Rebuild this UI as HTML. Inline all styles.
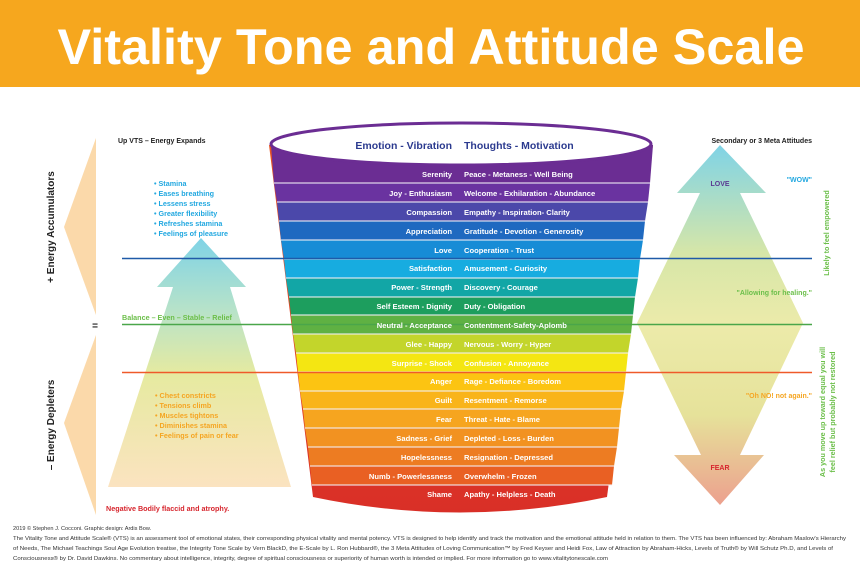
<!DOCTYPE html>
<html><head><meta charset="utf-8"><style>
html,body{margin:0;padding:0;background:#fff;}
svg{display:block;font-family:"Liberation Sans",Arial,sans-serif;}
</style></head><body>
<svg width="860" height="571" viewBox="0 0 860 571" xmlns="http://www.w3.org/2000/svg">
<defs>
<linearGradient id="la" x1="0" y1="0" x2="0" y2="1">
<stop offset="0" stop-color="#7fd3e6"/><stop offset="0.3" stop-color="#b9e3c8"/><stop offset="0.55" stop-color="#e6eaa0"/><stop offset="1" stop-color="#fbe3c0"/></linearGradient>
<linearGradient id="ra" x1="0" y1="0" x2="0" y2="1">
<stop offset="0" stop-color="#7fd3e6"/><stop offset="0.3" stop-color="#d6e6a8"/><stop offset="0.5" stop-color="#ecebaa"/><stop offset="0.75" stop-color="#e6e29a"/><stop offset="1" stop-color="#eca08e"/></linearGradient>
<linearGradient id="cupb" x1="0" y1="0" x2="0" y2="1">
<stop offset="0" stop-color="#e85524"/><stop offset="1" stop-color="#d92f27"/></linearGradient>
</defs>
<rect x="0" y="0" width="860" height="87" fill="#f6a71e"/>
<text x="431" y="64" text-anchor="middle" font-size="50" font-weight="bold" fill="#fff" textLength="747" lengthAdjust="spacingAndGlyphs">Vitality Tone and Attitude Scale</text>

<!-- left peach shapes -->
<polygon points="96,138 64,227 96,315" fill="#fbd9aa"/>
<polygon points="96,335 64,423 96,515" fill="#fbd9aa"/>
<text transform="translate(54,227) rotate(-90)" text-anchor="middle" font-size="10" font-weight="bold" fill="#222">+ Energy Accumulators</text>
<text transform="translate(54,425) rotate(-90)" text-anchor="middle" font-size="10" font-weight="bold" fill="#222">– Energy Depleters</text>
<text x="95" y="329" text-anchor="middle" font-size="10" font-weight="bold" fill="#222">=</text>

<!-- left arrow -->
<polygon points="201,238 246,287 230,287 291,487 108,487 173,287 157,287" fill="url(#la)"/>
<text x="118" y="143" font-size="7" font-weight="bold" fill="#222">Up VTS – Energy Expands</text>
<g font-size="7.2" font-weight="bold" fill="#22a8e0">
<text x="154" y="186">• Stamina</text>
<text x="154" y="196">• Eases breathing</text>
<text x="154" y="206">• Lessens stress</text>
<text x="154" y="216">• Greater flexibility</text>
<text x="154" y="226">• Refreshes stamina</text>
<text x="154" y="236">• Feelings of pleasure</text>
</g>
<g font-size="7.2" font-weight="bold" fill="#f5a623">
<text x="155" y="398">• Chest constricts</text>
<text x="155" y="408">• Tensions climb</text>
<text x="155" y="418">• Muscles tightons</text>
<text x="155" y="428">• Diminishes stamina</text>
<text x="155" y="438">• Feelings of pain or fear</text>
</g>
<text x="122" y="320" font-size="7.2" font-weight="bold" fill="#6cbf4a">Balance – Even – Stable – Relief</text>
<text x="106" y="511" font-size="7.2" font-weight="bold" fill="#d7262e">Negative Bodily flaccid and atrophy.</text>

<!-- right diamond arrow -->
<polygon points="720,145 766,193 740,193 803,323 740,455 764,455 720,505 674,455 701,455 637,323 700,193 677,193" fill="url(#ra)"/>
<text x="812" y="143" text-anchor="end" font-size="7" font-weight="bold" fill="#222">Secondary or 3 Meta Attitudes</text>
<text x="720" y="186" text-anchor="middle" font-size="7" font-weight="bold" fill="#5b3a92">LOVE</text>
<text x="812" y="182" text-anchor="end" font-size="7" font-weight="bold" fill="#22a8e0">"WOW"</text>
<text x="812" y="295" text-anchor="end" font-size="7" font-weight="bold" fill="#6cbf4a">"Allowing for healing."</text>
<text x="812" y="398" text-anchor="end" font-size="7" font-weight="bold" fill="#f5a623">"Oh NO! not again."</text>
<text x="720" y="470" text-anchor="middle" font-size="7" font-weight="bold" fill="#d7262e">FEAR</text>
<text transform="translate(829,233) rotate(-90)" text-anchor="middle" font-size="7.2" font-weight="bold" fill="#6cbf4a">Likely to feel empowered</text>
<text transform="translate(825,412) rotate(-90)" text-anchor="middle" font-size="7.2" font-weight="bold" fill="#6cbf4a">As you move up toward equal you will</text>
<text transform="translate(835,412) rotate(-90)" text-anchor="middle" font-size="7.2" font-weight="bold" fill="#6cbf4a">feel relief but probably not restored</text>

<!-- cup -->
<g id="cup">
<path d="M269,145 L313,497 Q460,528 607,497 L653,145 Z" fill="url(#cupb)"/>
<g>
<polygon points="271,145 653,145 650,183 274,183" fill="#6b2d93"/>
<polygon points="274,183 650,183 648,202 277,202" fill="#6a33a0"/>
<polygon points="277,202 648,202 645,221 279,221" fill="#4b48aa"/>
<polygon points="279,221 645,221 643,240 281,240" fill="#1f69c0"/>
<polygon points="281,240 643,240 640,259 284,259" fill="#178cd6"/>
<polygon points="284,259 640,259 638,278 286,278" fill="#17ace0"/>
<polygon points="286,278 638,278 635,297 289,297" fill="#12a6a6"/>
<polygon points="289,297 635,297 633,315 291,315" fill="#1d9e5e"/>
<polygon points="291,315 633,315 631,334 293,334" fill="#5fb143"/>
<polygon points="293,334 631,334 628,353 296,353" fill="#c3d52b"/>
<polygon points="296,353 628,353 626,372 298,372" fill="#f4e612"/>
<polygon points="298,372 626,372 624,391 300,391" fill="#fcc412"/>
<polygon points="300,391 624,391 621,409 303,409" fill="#f9b41a"/>
<polygon points="303,409 621,409 619,428 305,428" fill="#f6a51f"/>
<polygon points="305,428 619,428 617,447 308,447" fill="#f29221"/>
<polygon points="308,447 617,447 614,466 310,466" fill="#ed7c22"/>
<polygon points="310,466 614,466 612,485 312,485" fill="#e96023"/>
</g>
<g stroke="#f3f0f6" stroke-width="1.2" opacity="0.85">
<line x1="274" y1="183" x2="650" y2="183"/><line x1="277" y1="202" x2="648" y2="202"/>
<line x1="279" y1="221" x2="645" y2="221"/><line x1="281" y1="240" x2="643" y2="240"/>
<line x1="284" y1="259" x2="640" y2="259"/><line x1="286" y1="278" x2="638" y2="278"/>
<line x1="289" y1="297" x2="635" y2="297"/><line x1="291" y1="315" x2="633" y2="315"/>
<line x1="293" y1="334" x2="631" y2="334"/><line x1="296" y1="353" x2="628" y2="353"/>
<line x1="298" y1="372" x2="626" y2="372"/><line x1="300" y1="391" x2="624" y2="391"/>
<line x1="303" y1="409" x2="621" y2="409"/><line x1="305" y1="428" x2="619" y2="428"/>
<line x1="308" y1="447" x2="617" y2="447"/><line x1="310" y1="466" x2="614" y2="466"/>
<line x1="312" y1="485" x2="612" y2="485"/>
</g>
<ellipse cx="461" cy="144" rx="190" ry="21" fill="#fff" stroke="#6b2d93" stroke-width="3"/>
<text x="452" y="149" text-anchor="end" font-size="10.5" font-weight="bold" fill="#2b3a8f">Emotion - Vibration</text>
<text x="464" y="149" font-size="10.5" font-weight="bold" fill="#2b3a8f">Thoughts - Motivation</text>
</g>

<!-- horizontal lines -->
<line x1="122" y1="258.5" x2="812" y2="258.5" stroke="#1f5aa8" stroke-width="1.5"/>
<line x1="122" y1="324.5" x2="812" y2="324.5" stroke="#4aa64a" stroke-width="1.5"/>
<line x1="122" y1="372.5" x2="812" y2="372.5" stroke="#ef5a2a" stroke-width="1.5"/>

<g font-size="7.6" font-weight="bold" fill="#fff">
<g text-anchor="end">
<text x="452" y="177">Serenity</text><text x="452" y="196">Joy - Enthusiasm</text>
<text x="452" y="215">Compassion</text><text x="452" y="234">Appreciation</text>
<text x="452" y="253">Love</text><text x="452" y="271">Satisfaction</text>
<text x="452" y="290">Power - Strength</text><text x="452" y="309">Self Esteem - Dignity</text>
<text x="452" y="328">Neutral - Acceptance</text><text x="452" y="347">Glee - Happy</text>
<text x="452" y="366">Surprise - Shock</text><text x="452" y="384">Anger</text>
<text x="452" y="403">Guilt</text><text x="452" y="422">Fear</text>
<text x="452" y="441">Sadness - Grief</text><text x="452" y="460">Hopelessness</text>
<text x="452" y="479">Numb - Powerlessness</text><text x="452" y="497">Shame</text>
</g>
<text x="464" y="177">Peace - Metaness - Well Being</text><text x="464" y="196">Welcome - Exhilaration - Abundance</text>
<text x="464" y="215">Empathy - Inspiration- Clarity</text><text x="464" y="234">Gratitude - Devotion - Generosity</text>
<text x="464" y="253">Cooperation - Trust</text><text x="464" y="271">Amusement - Curiosity</text>
<text x="464" y="290">Discovery - Courage</text><text x="464" y="309">Duty - Obligation</text>
<text x="464" y="328">Contentment-Safety-Aplomb</text><text x="464" y="347">Nervous - Worry - Hyper</text>
<text x="464" y="366">Confusion  - Annoyance</text><text x="464" y="384">Rage - Defiance - Boredom</text>
<text x="464" y="403">Resentment - Remorse</text><text x="464" y="422">Threat - Hate - Blame</text>
<text x="464" y="441">Depleted - Loss - Burden</text><text x="464" y="460">Resignation - Depressed</text>
<text x="464" y="479">Overwhelm - Frozen</text><text x="464" y="497">Apathy - Helpless - Death</text>
</g>

<!-- footer -->
<g font-size="5.6" fill="#333">
<text x="13" y="530">2019 © Stephen J. Cocconi. Graphic design: Ardis Bow.</text>
<text x="13" y="540" textLength="833" lengthAdjust="spacingAndGlyphs">The Vitality Tone and Attitude Scale® (VTS) is an assessment tool of emotional states, their corresponding physical vitality and mental potency. VTS is designed to help identify and track the motivation and the emotional attitude held in relation to them. The VTS has been influenced by: Abraham Maslow's Hierarchy</text>
<text x="13" y="550" textLength="820" lengthAdjust="spacingAndGlyphs">of Needs, The Michael Teachings Soul Age Evolution treatise, the Integrity Tone Scale by Vern BlackD, the E-Scale by L. Ron Hubbard®, the 3 Meta Attitudes of Loving Communication™ by Fred Keyser and Heidi Fox, Law of Attraction by Abraham-Hicks, Levels of Truth® by Will Schutz Ph.D, and Levels of</text>
<text x="13" y="560" textLength="595" lengthAdjust="spacingAndGlyphs">Consciousness® by Dr. David Dawkins. No commentary about intelligence, integrity, degree of spiritual consciousness or superiority of human worth is intended or implied. For more information go to www.vitalitytonescale.com</text>
</g>
</svg>
</body></html>
